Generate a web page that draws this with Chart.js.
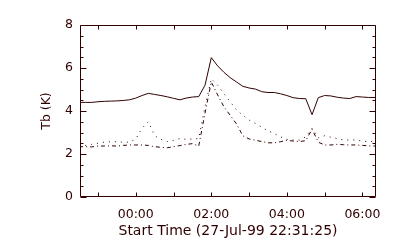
<!DOCTYPE html>
<html>
<head>
<meta charset="utf-8">
<script src="https://cdn.jsdelivr.net/npm/chart.js@4"></script>
<style>
  html, body { margin: 0; padding: 0; background: #fff; }
  canvas { display: block; }
</style>
</head>
<body>
<canvas id="tb" width="400" height="250"></canvas>
<script>
// hours relative to 28-Jul-99 00:00, 10 minute samples
var times = [-1.5, -1.333, -1.167, -1.0, -0.833, -0.667, -0.5, -0.333, -0.167,
  0, 0.167, 0.333, 0.5, 0.667, 0.833, 1.0, 1.167, 1.333, 1.5, 1.667, 1.833,
  2.0, 2.167, 2.333, 2.5, 2.667, 2.833, 3.0, 3.167, 3.333, 3.5, 3.667, 3.833,
  4.0, 4.167, 4.333, 4.5, 4.667, 4.833, 5.0, 5.167, 5.333, 5.5, 5.667, 5.833,
  6.0, 6.167, 6.333];

var solidTb = [4.40, 4.40, 4.40, 4.43, 4.45, 4.46, 4.47, 4.49, 4.52,
  4.60, 4.72, 4.82, 4.77, 4.72, 4.66, 4.59, 4.52, 4.60, 4.65, 4.67, 5.20,
  6.48, 6.10, 5.80, 5.55, 5.35, 5.15, 5.07, 5.02, 4.90, 4.86, 4.86, 4.80,
  4.72, 4.62, 4.58, 4.57, 3.83, 4.62, 4.72, 4.70, 4.64, 4.60, 4.58, 4.67,
  4.65, 4.63, 4.63];

var dottedTb = [2.40, 2.40, 2.45, 2.50, 2.55, 2.57, 2.57, 2.55, 2.55,
  2.70, 3.20, 3.50, 2.85, 2.68, 2.58, 2.63, 2.72, 2.68, 2.70, 2.72, 4.20,
  5.50, 5.20, 4.80, 4.43, 4.05, 3.80, 3.58, 3.42, 3.25, 3.08, 2.95, 2.80,
  2.68, 2.65, 2.65, 2.80, 3.20, 2.75, 2.85, 2.78, 2.72, 2.65, 2.65, 2.65,
  2.60, 2.57, 2.60];

var dashDotTb = [2.34, 2.34, 2.33, 2.37, 2.37, 2.38, 2.37, 2.40, 2.42,
  2.42, 2.42, 2.40, 2.34, 2.31, 2.29, 2.34, 2.39, 2.45, 2.48, 2.37, 3.90,
  5.35, 4.75, 4.20, 3.80, 3.40, 2.85, 2.70, 2.64, 2.58, 2.52, 2.52, 2.57,
  2.64, 2.60, 2.58, 2.62, 3.15, 2.55, 2.42, 2.42, 2.45, 2.43, 2.42, 2.42,
  2.40, 2.38, 2.37];

var xTickValues = [0, 2, 4, 6];
var xTickLabels = ['00:00', '02:00', '04:00', '06:00'];
var hourTicks = [-1, 0, 1, 2, 3, 4, 5, 6];
var yTickValues = [0, 2, 4, 6, 8];

var ink = '#300000';
var font = { family: 'DejaVu Sans', size: 12.5 };
var xTitleFont = { family: 'DejaVu Sans', size: 14 };

function pts(vals) {
  var out = [];
  for (var i = 0; i < times.length; i++) out.push({ x: times[i], y: vals[i] });
  return out;
}

// IDL style box with inward ticks on all four sides
var idlBox = {
  id: 'idlBox',
  afterDraw: function(chart) {
    var ctx = chart.ctx, a = chart.chartArea;
    var xs = chart.scales.x, ys = chart.scales.y;
    var L = Math.round(a.left) + 0.5, R = Math.round(a.right) - 0.5;
    var T = Math.round(a.top) + 0.5, B = Math.round(a.bottom) - 0.5;
    ctx.save();
    ctx.strokeStyle = ink;
    ctx.lineWidth = 1;
    ctx.beginPath();
    ctx.rect(L, T, R - L, B - T);
    for (var i = 0; i < hourTicks.length; i++) {
      var px = Math.round(xs.getPixelForValue(hourTicks[i])) + 0.5;
      ctx.moveTo(px, B); ctx.lineTo(px, B - 4);
      ctx.moveTo(px, T); ctx.lineTo(px, T + 4);
    }
    for (var v = 0; v <= 8; v += 0.5) {
      var py = Math.round(ys.getPixelForValue(v)) + 0.5;
      var len = (v % 2 === 0) ? 6 : 3;
      ctx.moveTo(L, py); ctx.lineTo(L + len, py);
      ctx.moveTo(R, py); ctx.lineTo(R - len, py);
    }
    ctx.stroke();
    ctx.restore();
  }
};

new Chart(document.getElementById('tb'), {
  type: 'line',
  data: {
    datasets: [{
      label: 'solid',
      data: pts(solidTb),
      borderColor: ink,
      borderWidth: 1
    }, {
      label: 'dotted',
      data: pts(dottedTb),
      borderColor: ink,
      borderWidth: 1,
      borderDash: [1, 5]
    }, {
      label: 'dash dot',
      data: pts(dashDotTb),
      borderColor: ink,
      borderWidth: 1,
      borderDash: [4, 3, 1, 3]
    }]
  },
  options: {
    responsive: false,
    animation: false,
    events: [],
    layout: { padding: { top: 25, right: 24, left: 0, bottom: 0 } },
    elements: { point: { radius: 0 }, line: { tension: 0 } },
    plugins: { legend: { display: false }, tooltip: { enabled: false } },
    scales: {
      x: {
        type: 'linear',
        min: -1.4764,
        max: 6.36,
        grid: { display: false, drawTicks: false },
        border: { display: false },
        afterBuildTicks: function(s) {
          s.ticks = xTickValues.map(function(v) { return { value: v }; });
        },
        afterFit: function(s) { s.height = 53; },
        ticks: {
          color: ink,
          font: font,
          padding: 10,
          maxRotation: 0,
          autoSkip: false,
          callback: function(v) {
            var i = xTickValues.indexOf(v);
            return i < 0 ? '' : xTickLabels[i];
          }
        },
        title: {
          display: true,
          text: 'Start Time (27-Jul-99 22:31:25)',
          color: ink,
          font: xTitleFont,
          padding: { top: 0, bottom: 10.6 }
        }
      },
      y: {
        min: 0,
        max: 8,
        grid: { display: false, drawTicks: false },
        border: { display: false },
        afterBuildTicks: function(s) {
          s.ticks = yTickValues.map(function(v) { return { value: v }; });
        },
        afterFit: function(s) { s.width = 80; },
        ticks: { color: ink, font: font, padding: 7 },
        title: {
          display: true,
          text: 'Tb (K)',
          color: ink,
          font: font,
          padding: { top: 39.5, bottom: 0 }
        }
      }
    }
  },
  plugins: [idlBox]
});
</script>
</body>
</html>
